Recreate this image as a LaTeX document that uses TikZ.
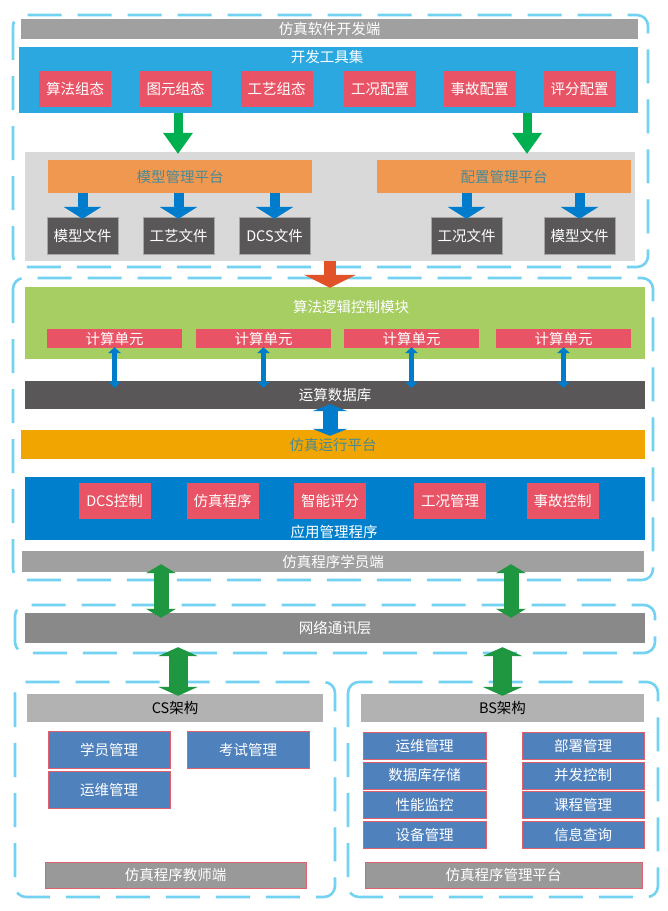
\documentclass[tikz,border=0pt]{standalone}
\usepackage{fontspec}
\setmainfont{Noto Sans CJK SC}
\usetikzlibrary{arrows.meta}

\definecolor{dashblue}{RGB}{115,210,242}
\definecolor{topgray}{RGB}{160,160,160}
\definecolor{toolblue}{RGB}{44,168,224}
\definecolor{redbox}{RGB}{232,84,102}
\definecolor{arrgreen}{RGB}{0,176,80}
\definecolor{mgrgray}{RGB}{217,217,217}
\definecolor{orangebox}{RGB}{241,152,80}
\definecolor{tealtext}{RGB}{72,138,150}
\definecolor{filegray}{RGB}{89,87,88}
\definecolor{arrblue}{RGB}{0,124,204}
\definecolor{arrred}{RGB}{226,82,40}
\definecolor{algreen}{RGB}{166,206,98}
\definecolor{runorange}{RGB}{240,165,0}
\definecolor{appblue}{RGB}{0,128,204}
\definecolor{darkgreen}{RGB}{31,150,64}
\definecolor{netgray}{RGB}{137,137,137}
\definecolor{csgray}{RGB}{178,178,178}
\definecolor{cellblue}{RGB}{79,129,189}
\definecolor{redline}{RGB}{224,96,110}
\definecolor{teachgray}{RGB}{153,153,153}

\begin{document}
\begin{tikzpicture}[x=1pt, y=-1pt,
  every node/.style={font=\fontsize{14.5}{16}\selectfont, inner sep=0pt},
  boxsize/.style 2 args={minimum width=#1, minimum height=#2},
  bar/.style={fill=#1, text=white},
  frame/.style={draw=dashblue, line width=2.6pt, dash pattern=on 34pt off 16pt, rounded corners=11pt},
  filebox/.style={fill=filegray, draw=gray!70, line width=0.4pt, text=white, boxsize={71}{37}},
  cell/.style={fill=cellblue, draw=redline, line width=0.6pt, text=white},
  greenarr/.style={draw=arrgreen, line width=9pt, -{Triangle[width=30pt,length=21pt,line width=0pt]}},
  bluearr/.style={draw=arrblue, line width=10pt, -{Triangle[width=38pt,length=12pt,line width=0pt]}},
  redarr/.style={draw=arrred, line width=12pt, -{Triangle[width=52pt,length=13pt,line width=0pt]}},
  bluedbl/.style={draw=arrblue, line width=5pt, {Triangle[width=13pt,length=6pt,line width=0pt]}-{Triangle[width=13pt,length=6pt,line width=0pt]}},
  bigbluedbl/.style={draw=arrblue, line width=15pt, {Triangle[width=35pt,length=7pt,line width=0pt]}-{Triangle[width=35pt,length=7pt,line width=0pt]}},
  greendbl/.style={draw=darkgreen, line width=15pt, {Triangle[width=30pt,length=9pt,line width=0pt]}-{Triangle[width=30pt,length=9pt,line width=0pt]}},
  greendblw/.style={draw=darkgreen, line width=19pt, {Triangle[width=40pt,length=9pt,line width=0pt]}-{Triangle[width=40pt,length=9pt,line width=0pt]}}]

\fill[white] (0,0) rectangle (668,911);
\useasboundingbox (0,0) rectangle (668,911);

% dashed frames
\draw[frame] (13,15) rectangle (648,267);
\draw[frame] (13,278) rectangle (653,580);
\draw[frame] (15,605) rectangle (655,653);
\draw[frame] (15,682) rectangle (335,897);
\draw[frame] (348,682) rectangle (658,897);

% development side
\node[bar=topgray, boxsize={617}{20}] (devbar) at (329.5,29) {仿真软件开发端};
\node[fill=toolblue, boxsize={619}{66}] (tools) at (328.5,80) {};
\node[text=white] (toolsT) at (327,57) {开发工具集};
\foreach \x/\t [count=\i] in {75/算法组态, 175.5/图元组态, 276.5/工艺组态, 380/工况配置, 479.5/事故配置, 579.5/评分配置}
  \node[bar=redbox, boxsize={72}{36}] (t\i) at (\x,89) {\t};

\node[fill=mgrgray, boxsize={610}{109}] (mgr) at (330,206.5) {};
\node[fill=orangebox, text=tealtext, boxsize={264}{33}] (mpf) at (180,176.5) {模型管理平台};
\node[fill=orangebox, text=tealtext, boxsize={254}{33}] (cpf) at (504,176.5) {配置管理平台};
\foreach \x/\t [count=\i] in {82.5/模型文件, 178.5/工艺文件, 274.5/DCS文件, 466.5/工况文件, 579.5/模型文件}
  \node[filebox] (f\i) at (\x,235.5) {\t};

\coordinate (g1) at (178,0);
\coordinate (g2) at (527,0);
\draw[greenarr, shorten >=-2pt] (tools.south -| g1) -- (mgr.north -| g1);
\draw[greenarr, shorten >=-2pt] (tools.south -| g2) -- (mgr.north -| g2);
\foreach \i in {1,2,3}
  \draw[bluearr, shorten >=-2pt] (mpf.south -| f\i) -- (f\i.north);
\foreach \i in {4,5}
  \draw[bluearr, shorten >=-2pt] (cpf.south -| f\i) -- (f\i.north);

% student side
\node[fill=algreen, boxsize={620}{72}] (alg) at (335,323) {};
\node[text=white] (algT) at (351,307) {算法逻辑控制模块};
\foreach \x [count=\i] in {114.5,263.5,411.5,563.5}
  \node[bar=redbox, boxsize={135}{19}] (u\i) at (\x,338.5) {计算单元};
\draw[redarr, shorten >=-1pt] (mgr.south) -- (alg.north -| mgr.south);

\node[bar=filegray, boxsize={620}{28}] (db) at (335,395) {运算数据库};
\foreach \i in {1,...,4}
  \draw[bluedbl, shorten <=-1pt, shorten >=-7pt] (u\i.south) -- (db.north -| u\i.south);

\node[fill=runorange, text=tealtext, boxsize={624}{29}] (run) at (333,444.5) {仿真运行平台};
\coordinate (c0) at (330,0);
\draw[bigbluedbl, shorten <=-5pt, shorten >=-6pt] (db.south -| c0) -- (run.north -| c0);

\node[fill=appblue, boxsize={620}{63}] (app) at (335,508.5) {};
\foreach \x/\t [count=\i] in {114.5/DCS控制, 222.5/仿真程序, 330/智能评分, 450/工况管理, 562.5/事故控制}
  \node[bar=redbox, boxsize={72}{36}] (a\i) at (\x,501) {\t};
\node[text=white] (appT) at (334,532) {应用管理程序};
\node[bar=topgray, boxsize={622}{21}] (stu) at (333,561.5) {仿真程序学员端};

% network
\node[bar=netgray, boxsize={620}{30}] (net) at (335,628) {网络通讯层};
\coordinate (s1) at (161,0);
\coordinate (s2) at (511,0);
\draw[greendbl, shorten <=-8pt, shorten >=-5pt] (stu.south -| s1) -- (net.north -| s1);
\draw[greendbl, shorten <=-8pt, shorten >=-5pt] (stu.south -| s2) -- (net.north -| s2);

% CS
\node[fill=csgray, boxsize={296}{28}] (cs) at (175,708) {CS架构};
\node[cell, boxsize={122}{37}] (cs1) at (109,749.5) {学员管理};
\node[cell, boxsize={122}{37}] (cs2) at (248,749.5) {考试管理};
\node[cell, boxsize={122}{37}] (cs3) at (109,789.5) {运维管理};
\node[bar=teachgray, draw=redline, line width=0.6pt, boxsize={261}{26}] (teach) at (175.5,875) {仿真程序教师端};
\coordinate (s3) at (178,0);
\draw[greendblw, shorten <=4pt, shorten >=-2pt] (net.south -| s3) -- (cs.north -| s3);

% BS
\node[fill=csgray, boxsize={283}{28}] (bs) at (502.5,708) {BS架构};
\foreach \y/\t [count=\i] in {746/运维管理, 775.5/数据库存储, 805/性能监控, 834.5/设备管理}
  \node[cell, boxsize={123}{27}] (bl\i) at (424.5,\y) {\t};
\foreach \y/\t [count=\i] in {746/部署管理, 775.5/并发控制, 805/课程管理, 834.5/信息查询}
  \node[cell, boxsize={122}{27}] (br\i) at (583,\y) {\t};
\node[bar=teachgray, draw=redline, line width=0.6pt, boxsize={277}{26}] (plat) at (503.5,875) {仿真程序管理平台};
\draw[greendblw, shorten <=4pt, shorten >=-2pt] (net.south -| bs) -- (bs.north);
\end{tikzpicture}
\end{document}
